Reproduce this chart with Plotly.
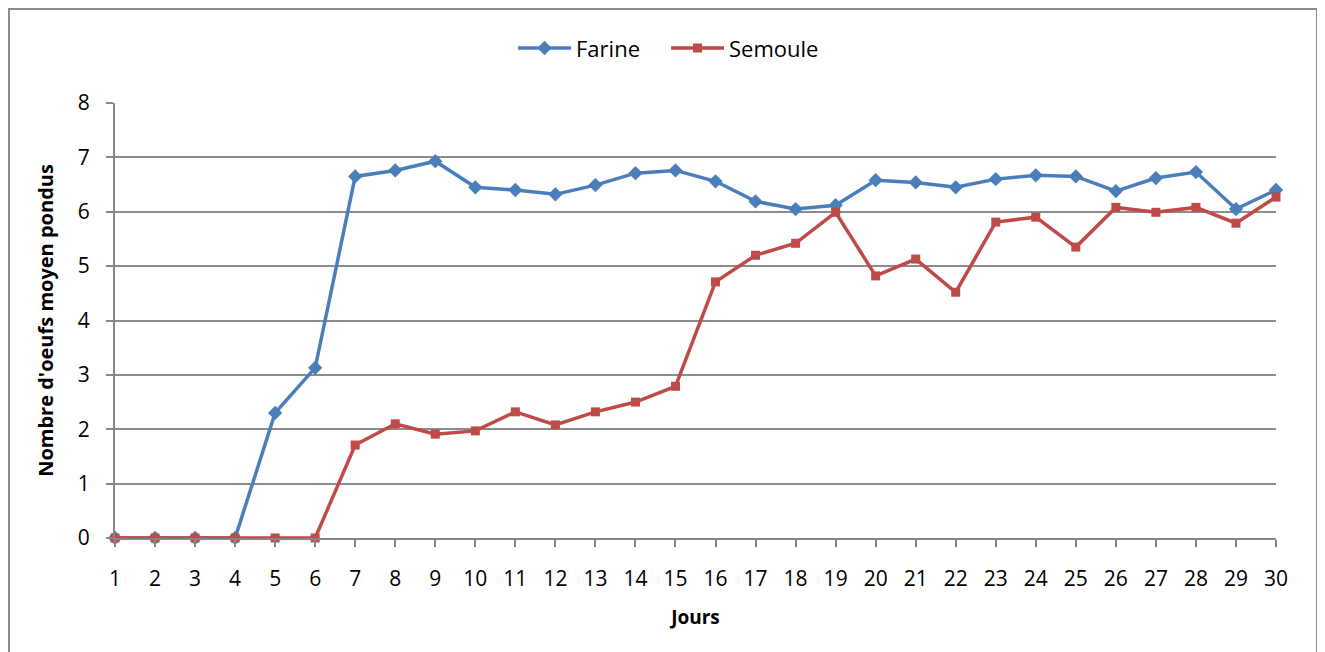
import plotly.graph_objects as go

# Jours et moyennes
jours = list(range(1, 31))
farine = [0, 0, 0, 0, 2.30, 3.13, 6.65, 6.76, 6.93, 6.45,
          6.40, 6.32, 6.49, 6.71, 6.76, 6.56, 6.19, 6.05, 6.12, 6.58,
          6.54, 6.45, 6.60, 6.67, 6.65, 6.38, 6.62, 6.73, 6.05, 6.40]
semoule = [0, 0, 0, 0, 0, 0, 1.71, 2.10, 1.91, 1.97,
           2.32, 2.08, 2.32, 2.50, 2.79, 4.71, 5.20, 5.42, 5.99, 4.82,
           5.13, 4.52, 5.81, 5.90, 5.35, 6.08, 5.99, 6.08, 5.79, 6.27]

font_name = "Open Sans"

fig = go.Figure()
fig.add_trace(go.Scatter(
    x=jours, y=farine, mode="lines+markers", name="Farine",
    line=dict(color="#4A7EBB", width=3.5),
    marker=dict(symbol="diamond", size=11, color="#4A7EBB"),
    cliponaxis=False
))
fig.add_trace(go.Scatter(
    x=jours, y=semoule, mode="lines+markers", name="Semoule",
    line=dict(color="#BE4B48", width=3.5),
    marker=dict(symbol="square", size=9, color="#BE4B48"),
    cliponaxis=False
))

# cadre extérieur
fig.add_shape(type="rect", xref="paper", yref="paper",
              x0=-0.0913, x1=1.0353, y0=-0.35, y1=1.216,
              line=dict(color="#8C8C8C", width=2), layer="below")

fig.update_layout(
    width=1325, height=652,
    margin=dict(l=107, r=57, t=95, b=122, autoexpand=False),
    paper_bgcolor="white", plot_bgcolor="white",
    font=dict(family=font_name, size=21, color="black"),
    showlegend=True,
    legend=dict(orientation="h", x=0.4746, xanchor="center", y=1.126, yanchor="middle",
                font=dict(size=22), bgcolor="rgba(0,0,0,0)",
                itemwidth=53, entrywidth=85, entrywidthmode="pixels"),
    xaxis=dict(
        title=dict(text="<b>Jours</b>", font=dict(size=19), standoff=19),
        range=[1, 30], tickmode="array", tickvals=jours,
        ticks="outside", ticklen=7, tickcolor="#868686", tickwidth=2,
        ticklabelstandoff=14,
        showline=True, linecolor="#868686", linewidth=2,
        showgrid=False, zeroline=False
    ),
    yaxis=dict(
        title=dict(text="<b>Nombre d'oeufs moyen pondus</b>", font=dict(size=20), standoff=19),
        range=[0, 8], dtick=1,
        ticks="outside", ticklen=7, tickcolor="#868686", tickwidth=2,
        ticklabelstandoff=12,
        showline=True, linecolor="#868686", linewidth=2,
        showgrid=True, gridcolor="#8C8C8C", gridwidth=1.5,
        zeroline=False
    )
)

fig.write_html("out.html")
